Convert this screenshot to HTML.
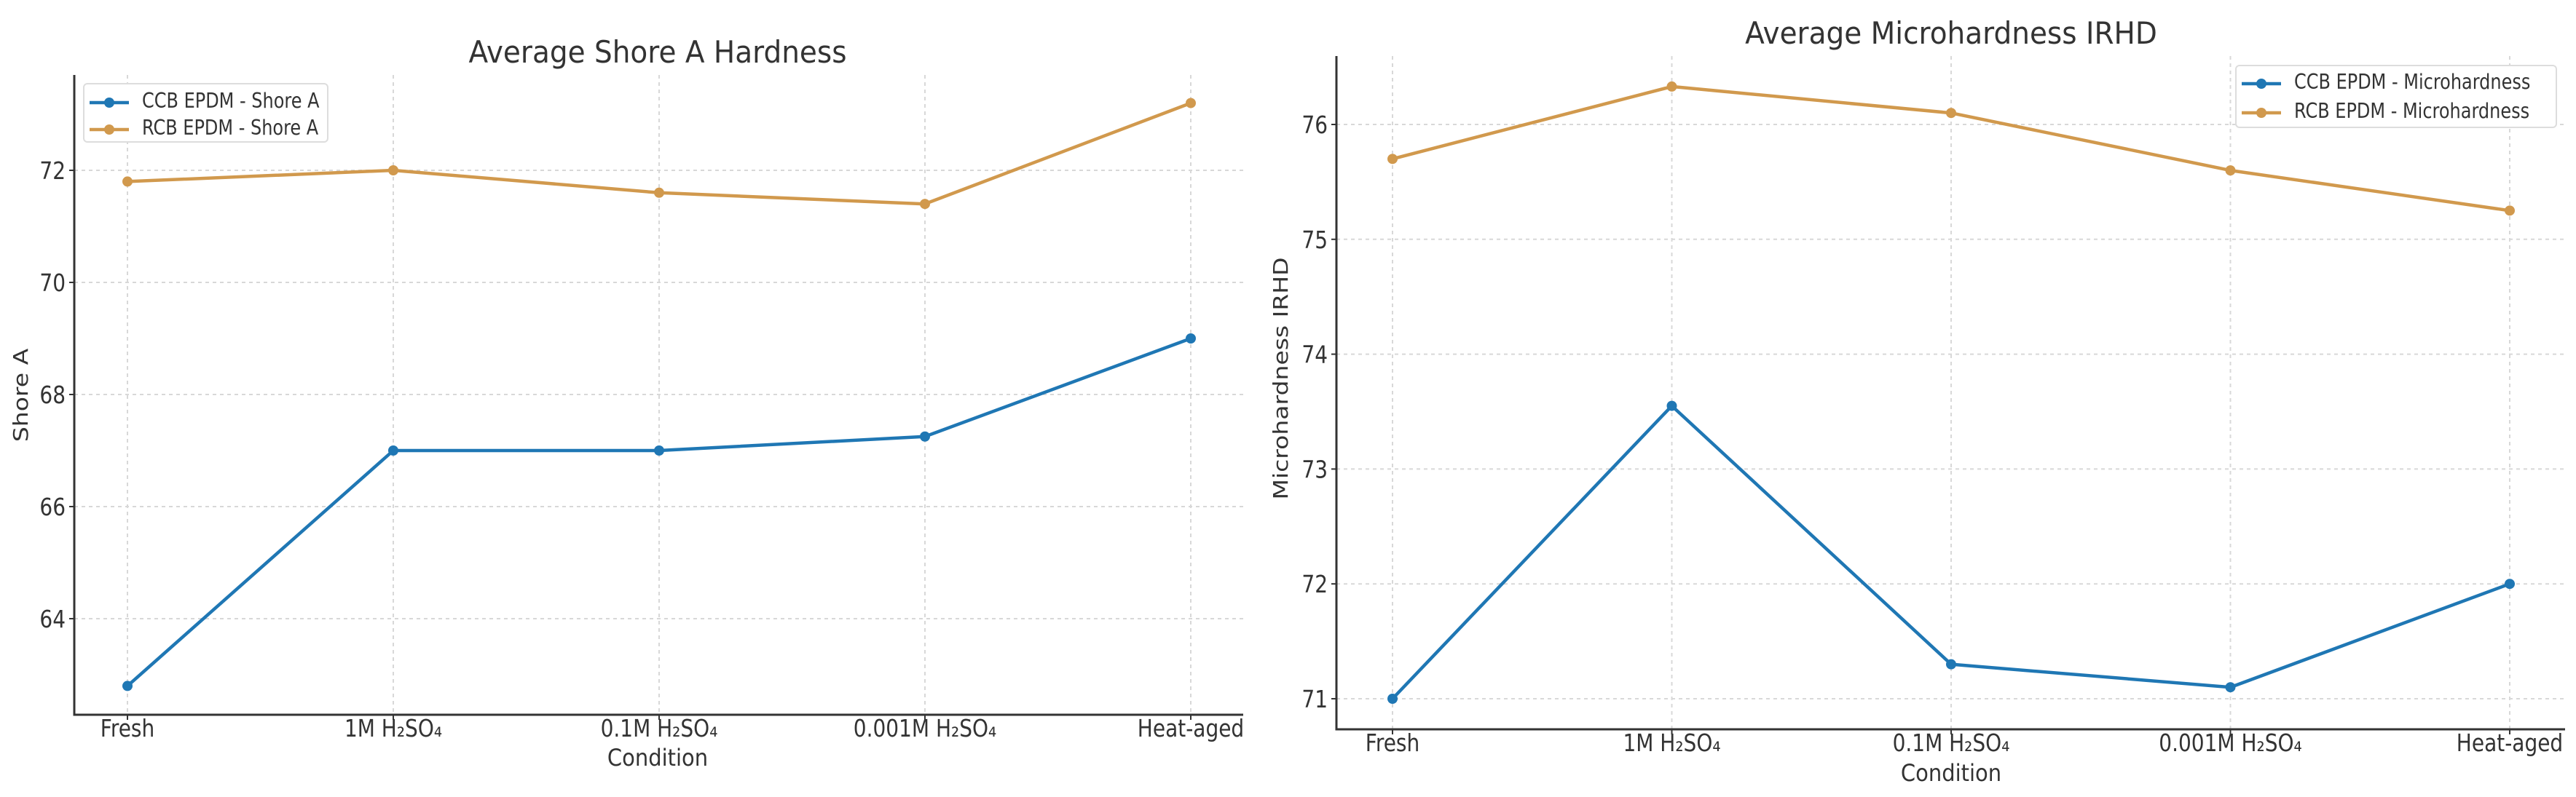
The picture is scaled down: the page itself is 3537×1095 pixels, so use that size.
<!DOCTYPE html>
<html><head><meta charset="utf-8"><style>
html,body{margin:0;padding:0;background:#fff;}
svg{display:block;font-family:"DejaVu Sans","Liberation Sans",sans-serif;}
</style></head><body>
<svg id="svg" width="3537" height="1095" viewBox="0 0 3537 1095" xmlns="http://www.w3.org/2000/svg"></svg>
<script>
const categories = ["Fresh","1M H₂SO₄","0.1M H₂SO₄","0.001M H₂SO₄","Heat-aged"];
const shoreCCB = [62.8, 67, 67, 67.25, 69];
const shoreRCB = [71.8, 72, 71.6, 71.4, 73.2];
const shoreTicks = [64, 66, 68, 70, 72];
const microCCB = [71, 73.55, 71.3, 71.1, 72];
const microRCB = [75.7, 76.33, 76.1, 75.6, 75.25];
const microTicks = [71, 72, 73, 74, 75, 76];

const NS = "http://www.w3.org/2000/svg";
const svg = document.getElementById('svg');
const BLUE = "#1f77b4", ORANGE = "#d1994d";
function mk(tag, attrs, parent) {
  const e = document.createElementNS(NS, tag);
  for (const k in attrs) e.setAttribute(k, attrs[k]);
  (parent || svg).appendChild(e);
  return e;
}
function txt(x, y, s, size, anchor, parent, rot, sy) {
  const t = mk('text', {
    transform: 'translate(' + x + ',' + y + ') scale(1,' + (sy || 1.18) + ')' + (rot ? ' rotate(-90)' : ''),
    'font-size': size, 'text-anchor': anchor, fill: '#333'
  }, parent);
  t.textContent = s;
  return t;
}

function drawChart(cfg) {
  const g = mk('g', {});
  
  
  const x0 = cfg.left, x1 = cfg.right, yTop = cfg.top, yBot = cfg.bottom;
  const xs = i => cfg.cx0 + i * (cfg.cx1 - cfg.cx0) / (categories.length - 1);
  const ys = v => cfg.yRef - (v - cfg.vRef) * cfg.ppu;
  categories.forEach((c, i) => {
    const l = mk('line', {x1: xs(i), x2: xs(i), y1: yTop, y2: yBot, stroke: '#d8d8d8', 'stroke-width': 2, 'stroke-dasharray': '5,5'}, g);
    
    
  });
  cfg.ticks.forEach(v => {
    const l = mk('line', {x1: x0, x2: x1, y1: ys(v), y2: ys(v), stroke: '#d8d8d8', 'stroke-width': 2, 'stroke-dasharray': '5,5'}, g);
    
    
    mk('line', {x1: x0 - 7, x2: x0, y1: ys(v), y2: ys(v), stroke: '#333', 'stroke-width': 2}, g);
    const t = txt(x0 - 12, ys(v) + 12, String(v), 28, 'end', g);
    
    
  });
  const ax = mk('path', {d: 'M' + x0 + ',' + yTop + ' L' + x0 + ',' + yBot + ' L' + x1 + ',' + yBot, fill: 'none', stroke: '#333', 'stroke-width': 3}, g);
  
  
  categories.forEach((c, i) => {
    mk('line', {x1: xs(i), x2: xs(i), y1: yBot, y2: yBot + 7, stroke: '#333', 'stroke-width': 2}, g);
    const t = txt(xs(i), cfg.tickBase, c, 28, 'middle', g);
    
    
  });
  [[cfg.ccb, BLUE, 'ccb-line'], [cfg.rcb, ORANGE, 'rcb-line']].forEach(([data, col, nm]) => {
    const p = mk('polyline', {points: data.map((v, i) => xs(i) + ',' + ys(v)).join(' '), fill: 'none', stroke: col, 'stroke-width': 4.5, 'stroke-linejoin': 'round'}, g);
    
    
    data.forEach((v, i) => {
      const c = mk('circle', {cx: xs(i), cy: ys(v), r: 7, fill: col}, g);
      
      
    });
  });
  const tt = txt(cfg.titleX, cfg.titleY, cfg.title, 39, 'middle', g, false, 1.08);
  
  
  const xl = txt(cfg.titleX, cfg.xlabY, 'Condition', 29, 'middle', g, false, 1.12);
  
  
  const yl = txt(cfg.ylabX, cfg.ylabY, cfg.ylab, 28, 'middle', g, true);
  
  
  const L = cfg.legend;
  const lg = mk('g', {}, g);
  
  
  mk('rect', {x: L.x, y: L.y, width: L.w, height: L.h, rx: 5, fill: '#fff', stroke: '#ddd', 'stroke-width': 2}, lg);
  [[cfg.lab1, BLUE, L.b1], [cfg.lab2, ORANGE, L.b2]].forEach(([s, col, b]) => {
    mk('line', {x1: L.x + 8, x2: L.x + 62, y1: b - 9, y2: b - 9, stroke: col, 'stroke-width': 4.5}, lg);
    mk('circle', {cx: L.x + 35, cy: b - 9, r: 7, fill: col}, lg);
    const t = txt(L.x + 80, b - 2, s, 24, 'start', lg);
    
    
  });
}

drawChart({name: 'shore-chart', left: 102, right: 1707, top: 103, bottom: 982,
  cx0: 175, cx1: 1635, yRef: 234, vRef: 72, ppu: 77, ticks: shoreTicks,
  ccb: shoreCCB, rcb: shoreRCB, tickBase: 1012, title: 'Average Shore A Hardness',
  titleX: 903, titleY: 86, xlabY: 1052, ylab: 'Shore A', ylabX: 38, ylabY: 543,
  lab1: 'CCB EPDM - Shore A', lab2: 'RCB EPDM - Shore A',
  legend: {x: 115, y: 115, w: 335, h: 80, b1: 150, b2: 187}});

drawChart({name: 'microhardness-chart', left: 1835, right: 3522, top: 77, bottom: 1002,
  cx0: 1912, cx1: 3446, yRef: 960, vRef: 71, ppu: 157.8, ticks: microTicks,
  ccb: microCCB, rcb: microRCB, tickBase: 1032, title: 'Average Microhardness IRHD',
  titleX: 2679, titleY: 60, xlabY: 1073, ylab: 'Microhardness IRHD', ylabX: 1768, ylabY: 520,
  lab1: 'CCB EPDM - Microhardness', lab2: 'RCB EPDM - Microhardness',
  legend: {x: 3070, y: 90, w: 440, h: 85, b1: 124, b2: 164}});
</script>
</body></html>
